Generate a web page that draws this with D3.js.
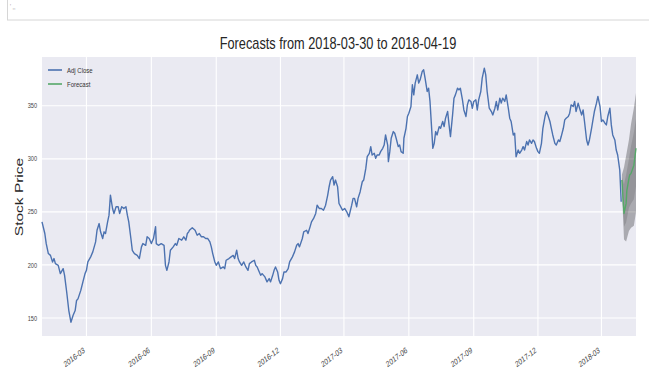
<!DOCTYPE html>
<html>
<head>
<meta charset="utf-8">
<script src="https://cdn.jsdelivr.net/npm/d3@7/dist/d3.min.js"></script>
<style>
  body { margin: 0; background: #fff; }
  svg { display: block; }
  text { font-family: "Liberation Sans", Arial, Helvetica, sans-serif; }
</style>
</head>
<body>
<svg id="chart" width="649" height="371"></svg>
<script>
// Daily adjusted close (sampled), 2015-12-29 .. 2018-03-29
const closeDates = [
"2015-12-29","2016-01-02","2016-01-04","2016-01-07","2016-01-10","2016-01-13","2016-01-15","2016-01-17","2016-01-21","2016-01-24",
"2016-01-28","2016-01-30","2016-02-02","2016-02-05","2016-02-08","2016-02-11","2016-02-14","2016-02-16","2016-02-18","2016-02-22",
"2016-02-25","2016-02-28","2016-03-01","2016-03-03","2016-03-07","2016-03-10","2016-03-14","2016-03-16","2016-03-19","2016-03-21",
"2016-03-24","2016-03-26","2016-03-28","2016-03-31","2016-04-02","2016-04-04","2016-04-07","2016-04-09","2016-04-12","2016-04-15",
"2016-04-17","2016-04-20","2016-04-23","2016-04-26","2016-04-28","2016-04-30","2016-05-03","2016-05-05","2016-05-08","2016-05-12",
"2016-05-15","2016-05-18","2016-05-20","2016-05-24","2016-05-26","2016-05-29","2016-06-01","2016-06-04","2016-06-07","2016-06-08",
"2016-06-11","2016-06-15","2016-06-19","2016-06-21","2016-06-23","2016-06-26","2016-06-28","2016-07-02","2016-07-05","2016-07-07",
"2016-07-10","2016-07-14","2016-07-17","2016-07-20","2016-07-22","2016-07-24","2016-07-25","2016-07-29","2016-08-02","2016-08-05",
"2016-08-08","2016-08-11","2016-08-14","2016-08-17","2016-08-20","2016-08-23","2016-08-25","2016-08-27","2016-08-30","2016-09-01",
"2016-09-04","2016-09-07","2016-09-11","2016-09-13","2016-09-15","2016-09-19","2016-09-22","2016-09-25","2016-09-27","2016-09-30",
"2016-10-02","2016-10-04","2016-10-07","2016-10-10","2016-10-13","2016-10-16","2016-10-18","2016-10-21","2016-10-25","2016-10-27",
"2016-10-29","2016-11-01","2016-11-03","2016-11-05","2016-11-09","2016-11-12","2016-11-15","2016-11-17","2016-11-20","2016-11-22",
"2016-11-24","2016-11-27","2016-11-29","2016-12-01","2016-12-04","2016-12-06","2016-12-09","2016-12-12","2016-12-14","2016-12-18",
"2016-12-21","2016-12-24","2016-12-26","2016-12-28","2017-01-01","2017-01-03","2017-01-07","2017-01-09","2017-01-12","2017-01-14",
"2017-01-17","2017-01-20","2017-01-22","2017-01-25","2017-01-28","2017-01-31","2017-02-03","2017-02-06","2017-02-08","2017-02-10",
"2017-02-13","2017-02-15","2017-02-17","2017-02-20","2017-02-22","2017-02-27","2017-03-02","2017-03-05","2017-03-08","2017-03-12",
"2017-03-14","2017-03-16","2017-03-19","2017-03-21","2017-03-24","2017-03-27","2017-03-29","2017-04-01","2017-04-03","2017-04-06",
"2017-04-08","2017-04-10","2017-04-13","2017-04-15","2017-04-17","2017-04-20","2017-04-22","2017-04-25","2017-04-27","2017-04-29",
"2017-05-02","2017-05-03","2017-05-05","2017-05-07","2017-05-10","2017-05-12","2017-05-14","2017-05-17","2017-05-19","2017-05-21",
"2017-05-24","2017-05-25","2017-05-28","2017-05-30","2017-06-01","2017-06-04","2017-06-06","2017-06-08","2017-06-10","2017-06-13",
"2017-06-15","2017-06-17","2017-06-20","2017-06-22","2017-06-24","2017-06-27","2017-06-29","2017-07-01","2017-07-03","2017-07-05",
"2017-07-07","2017-07-09","2017-07-11","2017-07-14","2017-07-16","2017-07-19","2017-07-21","2017-07-23","2017-07-26","2017-07-28",
"2017-07-30","2017-08-02","2017-08-04","2017-08-06","2017-08-09","2017-08-11","2017-08-13","2017-08-16","2017-08-18","2017-08-21",
"2017-08-23","2017-08-25","2017-08-28","2017-08-30","2017-09-01","2017-09-04","2017-09-06","2017-09-08","2017-09-11","2017-09-13",
"2017-09-16","2017-09-18","2017-09-20","2017-09-23","2017-09-26","2017-09-28","2017-10-01","2017-10-03","2017-10-05","2017-10-08",
"2017-10-10","2017-10-12","2017-10-15","2017-10-17","2017-10-20","2017-10-22","2017-10-24","2017-10-27","2017-10-29","2017-10-31",
"2017-11-03","2017-11-05","2017-11-08","2017-11-10","2017-11-12","2017-11-15","2017-11-17","2017-11-19","2017-11-22","2017-11-24",
"2017-11-26","2017-11-29","2017-12-01","2017-12-03","2017-12-06","2017-12-08","2017-12-11","2017-12-13","2017-12-15","2017-12-18",
"2017-12-20","2017-12-22","2017-12-25","2017-12-27","2017-12-30","2018-01-01","2018-01-03","2018-01-06","2018-01-08","2018-01-10",
"2018-01-13","2018-01-15","2018-01-17","2018-01-20","2018-01-22","2018-01-24","2018-01-27","2018-01-29","2018-02-01","2018-02-03",
"2018-02-05","2018-02-08","2018-02-10","2018-02-12","2018-02-15","2018-02-17","2018-02-19","2018-02-22","2018-02-24","2018-02-27",
"2018-03-01","2018-03-03","2018-03-06","2018-03-08","2018-03-10","2018-03-13","2018-03-15","2018-03-17","2018-03-20","2018-03-22",
"2018-03-24","2018-03-27","2018-03-29"
];
const closeValues = [
240.6,229.6,220.0,210.7,209.0,202.8,206.0,201.2,199.6,191.8,
196.5,190.2,174.5,157.0,146.0,152.4,157.0,166.5,168.0,176.0,
184.0,191.8,194.9,202.8,207.6,212.3,221.7,232.7,239.0,231.2,
224.9,231.2,229.6,240.6,246.9,265.8,253.2,248.5,254.8,254.8,
248.5,254.8,253.2,254.8,246.9,240.6,224.9,213.8,210.7,209.0,
206.0,217.0,220.1,218.5,226.5,224.9,220.1,224.9,236.0,220.1,
218.5,220.1,218.5,199.6,194.9,202.8,213.8,217.0,220.1,218.5,
224.9,223.3,226.5,223.3,229.6,231.2,232.7,235.0,232.7,228.0,
229.6,226.5,226.5,224.9,224.9,221.7,217.0,210.7,202.8,199.6,
202.8,196.5,198.1,196.5,204.4,206.0,207.6,209.0,206.0,213.8,
206.0,202.8,199.6,202.8,198.1,194.9,201.2,202.8,204.4,199.6,
198.1,193.4,190.2,191.8,188.7,184.0,187.1,184.0,190.2,194.9,
198.1,193.4,185.5,182.3,187.1,193.4,193.4,196.5,202.8,207.6,
212.3,218.5,220.1,217.0,224.9,231.2,232.7,229.6,235.9,240.6,
243.8,248.5,256.3,253.2,253.2,251.6,256.3,265.8,273.7,280.0,
283.2,275.2,280.0,273.7,257.9,251.6,253.2,250.1,245.4,256.3,
262.7,262.7,254.8,262.7,269.0,278.4,280.0,291.0,302.0,305.2,
311.5,303.6,305.2,300.5,303.6,303.6,306.8,309.9,313.0,322.5,
313.0,297.4,306.8,319.4,325.7,324.1,319.4,311.5,313.0,306.8,
305.2,319.4,328.8,339.9,343.0,349.3,369.8,360.3,371.4,379.2,
371.4,374.5,382.4,383.9,376.1,363.5,366.6,354.1,332.0,309.9,
314.6,325.7,322.5,330.4,328.8,335.2,330.4,338.3,344.6,332.0,
321.0,341.4,357.2,360.3,366.6,365.0,366.6,355.6,346.1,339.9,
350.9,355.6,354.1,347.7,354.1,355.6,346.1,355.6,363.5,376.1,
385.5,379.2,363.5,347.7,344.6,341.4,347.7,354.1,346.1,357.2,
352.5,357.2,354.1,360.3,347.7,338.3,335.2,322.5,324.1,302.0,
308.3,305.2,308.3,311.5,308.3,316.3,313.0,317.8,314.6,317.8,
316.3,309.9,306.8,305.2,314.6,328.8,339.9,344.6,341.4,335.2,
328.8,322.5,314.6,313.0,317.8,316.3,321.0,328.8,336.7,338.3,
339.9,343.0,350.9,349.3,354.1,344.6,352.5,347.7,341.4,346.1,
335.2,317.8,313.0,317.8,328.8,336.7,344.6,352.5,358.8,349.3,
335.2,336.7,333.6,332.0,339.9,347.7,332.0,322.5,317.8,308.3,
303.6,289.4,259.5
];

// Point forecast, 2018-03-30 .. 2018-04-19
const forecastDates = ["2018-03-30","2018-04-02","2018-04-05","2018-04-06","2018-04-09","2018-04-10","2018-04-12","2018-04-16","2018-04-19"];
const forecastValues = [280.0,248.5,258.0,270.0,281.6,284.7,286.3,294.0,310.0];

// Prediction intervals
const bandDates = ["2018-03-30","2018-04-02","2018-04-05","2018-04-09","2018-04-12","2018-04-16","2018-04-19"];
const upper95 = [285,292,303,318,333,348,362];
const lower95 = [270,224,222,232,235,237,250];
const upper80 = [283,276,285,300,312,325,338];
const lower80 = [275,236,240,254,258,262,274];

const yTicks = [150,200,250,300,350];
const xTickLabels = ["2016-03","2016-06","2016-09","2016-12","2017-03","2017-06","2017-09","2017-12","2018-03"];
const titleText = "Forecasts from 2018-03-30 to 2018-04-19";
const yAxisLabel = "Stock Price";
const legendLabels = ["Adj Close","Forecast"];

const parse = d3.utcParse("%Y-%m-%d");
const SQ = 0.75; // horizontal text compression
const plot = { left: 42, right: 636, top: 57, bottom: 336 };
const colors = { close: "#4C72B0", forecast: "#55A868", bg: "#EAEAF2", text: "#262626" };

const svg = d3.select("#chart");
svg.append("rect").attr("width", 649).attr("height", 371).attr("fill", "#fff");

// notebook cell strip along the top
svg.append("rect").attr("x", 7.5).attr("y", -1.5).attr("width", 645).attr("height", 21.5)
  .attr("fill", "#fff").attr("stroke", "#d6d6d6");
svg.append("text").attr("transform", "translate(10,9) scale(0.75,1)")
  .attr("font-size", 7).attr("fill", "#999").text("'           ,,");

const x = d3.scaleUtc()
  .domain([parse(closeDates[0]), parse(forecastDates[forecastDates.length - 1])])
  .range([plot.left, plot.right]);
const y = d3.scaleLinear().domain([133, 396]).range([plot.bottom, plot.top]);

svg.append("rect")
  .attr("x", plot.left).attr("y", plot.top)
  .attr("width", plot.right - plot.left).attr("height", plot.bottom - plot.top)
  .attr("fill", colors.bg);

const xTickDates = xTickLabels.map(s => parse(s + "-01"));

// grid
const grid = svg.append("g").attr("stroke", "#fff").attr("stroke-width", 1.1);
grid.selectAll("line.h").data(yTicks).join("line")
  .attr("x1", plot.left).attr("x2", plot.right)
  .attr("y1", d => y(d)).attr("y2", d => y(d));
grid.selectAll("line.v").data(xTickDates).join("line")
  .attr("x1", d => x(d)).attr("x2", d => x(d))
  .attr("y1", plot.top).attr("y2", plot.bottom);

// y tick labels
svg.append("g").selectAll("text").data(yTicks).join("text")
  .attr("transform", d => `translate(37,${y(d) + 2.6}) scale(${SQ},1)`)
  .attr("text-anchor", "end").attr("font-size", 7.5).attr("fill", "#444")
  .text(d => d);

// x tick labels
svg.append("g").selectAll("text").data(xTickDates).join("text")
  .attr("transform", d => `translate(${x(d) - 1},352) scale(${SQ},1) rotate(-30)`)
  .attr("text-anchor", "end").attr("font-size", 8.5).attr("fill", "#444")
  .text((d, i) => xTickLabels[i]);

// prediction bands
const bands = bandDates.map((d, i) => ({ date: parse(d), u95: upper95[i], l95: lower95[i], u80: upper80[i], l80: lower80[i] }));
svg.append("path").datum(bands)
  .attr("d", d3.area().x(d => x(d.date)).y0(d => y(d.l95)).y1(d => y(d.u95)))
  .attr("fill", "#000").attr("fill-opacity", 0.27);
svg.append("path").datum(bands)
  .attr("d", d3.area().x(d => x(d.date)).y0(d => y(d.l80)).y1(d => y(d.u80)))
  .attr("fill", "#000").attr("fill-opacity", 0.12);

const line = d3.line().x(d => x(d.date)).y(d => y(d.value));
const closeSeries = closeDates.map((d, i) => ({ date: parse(d), value: closeValues[i] }));
const forecastSeries = forecastDates.map((d, i) => ({ date: parse(d), value: forecastValues[i] }));

svg.append("path").datum(closeSeries).attr("d", line)
  .attr("fill", "none").attr("stroke", colors.close).attr("stroke-width", 1.4).attr("stroke-linejoin", "round");
svg.append("path").datum(forecastSeries).attr("d", line)
  .attr("fill", "none").attr("stroke", colors.forecast).attr("stroke-width", 1.4).attr("stroke-linejoin", "round");

// legend
const legend = svg.append("g");
[colors.close, colors.forecast].forEach((c, i) => {
  const ly = 70 + i * 14;
  legend.append("line").attr("x1", 48).attr("x2", 62).attr("y1", ly).attr("y2", ly)
    .attr("stroke", c).attr("stroke-width", 1.6);
  legend.append("text").attr("transform", `translate(67,${ly + 2.8}) scale(${SQ},1)`)
    .attr("font-size", 8).attr("fill", "#333").text(legendLabels[i]);
});

// title
svg.append("text").attr("transform", `translate(338,49) scale(${SQ},1)`)
  .attr("text-anchor", "middle").attr("font-size", 17).attr("fill", colors.text)
  .text(titleText);

// y axis label
svg.append("text").attr("transform", `translate(23,197) scale(${SQ},1) rotate(-90)`)
  .attr("text-anchor", "middle").attr("font-size", 15.5).attr("fill", colors.text)
  .text(yAxisLabel);
</script>
</body>
</html>
